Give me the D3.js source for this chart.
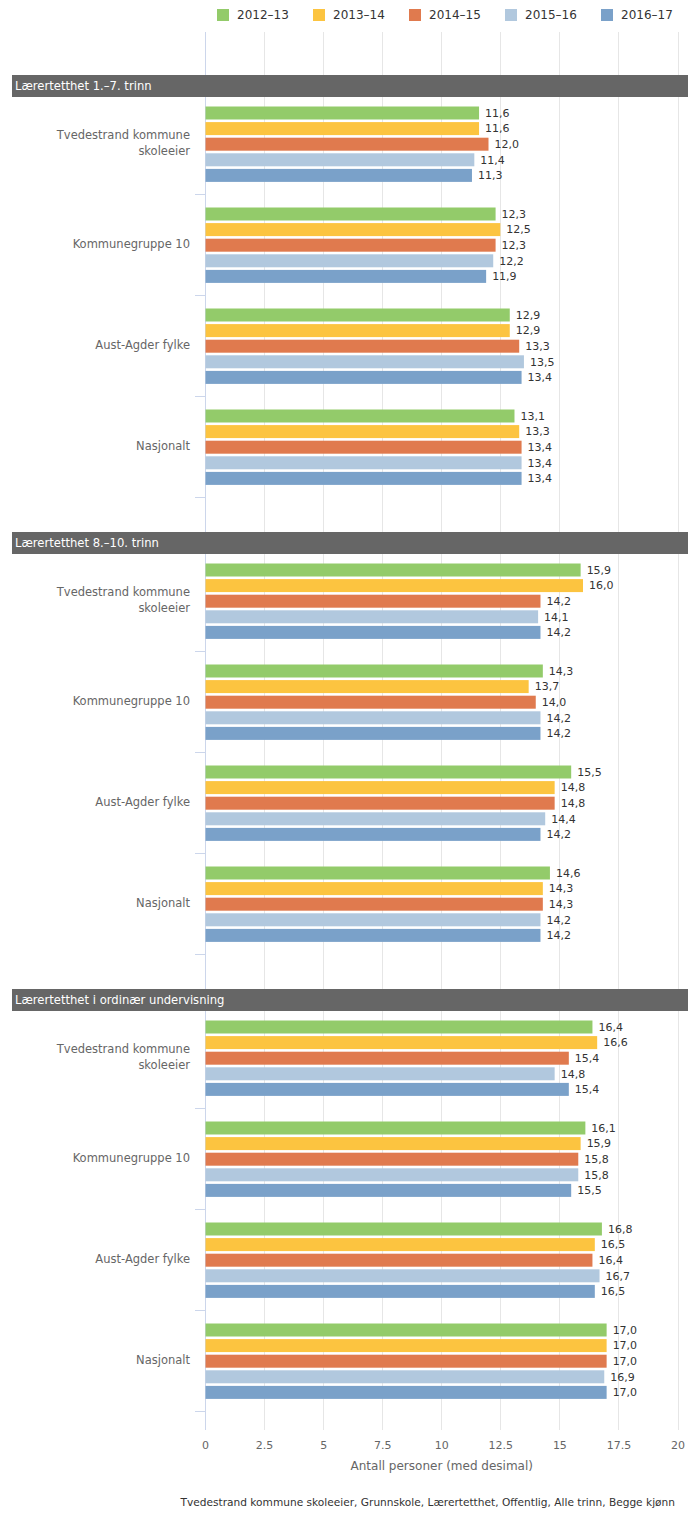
<!DOCTYPE html>
<html>
<head>
<meta charset="utf-8">
<script src="https://cdn.jsdelivr.net/npm/d3@7"></script>
<style>
  html, body { margin: 0; padding: 0; background: #fff; }
  svg { display: block; font-family: "DejaVu Sans", sans-serif; }
</style>
</head>
<body>
<svg id="chart" width="700" height="1534"></svg>
<script>
// ---- data ----
const sections = ["Lærertetthet 1.–7. trinn", "Lærertetthet 8.–10. trinn", "Lærertetthet i ordinær undervisning"];
const categories = ["Tvedestrand kommune skoleeier", "Kommunegruppe 10", "Aust-Agder fylke", "Nasjonalt"];
const seasons = ["2012–13", "2013–14", "2014–15", "2015–16", "2016–17"];
const seasonColors = ["#93cb6a", "#fcc440", "#e07a4e", "#b1c8de", "#7aa1c9"];
// values[category][season]
const values1to7 = [
  [11.6, 11.6, 12.0, 11.4, 11.3],
  [12.3, 12.5, 12.3, 12.2, 11.9],
  [12.9, 12.9, 13.3, 13.5, 13.4],
  [13.1, 13.3, 13.4, 13.4, 13.4]
];
const values8to10 = [
  [15.9, 16.0, 14.2, 14.1, 14.2],
  [14.3, 13.7, 14.0, 14.2, 14.2],
  [15.5, 14.8, 14.8, 14.4, 14.2],
  [14.6, 14.3, 14.3, 14.2, 14.2]
];
const valuesOrdinaer = [
  [16.4, 16.6, 15.4, 14.8, 15.4],
  [16.1, 15.9, 15.8, 15.8, 15.5],
  [16.8, 16.5, 16.4, 16.7, 16.5],
  [17.0, 17.0, 17.0, 16.9, 17.0]
];
const sectionValues = [values1to7, values8to10, valuesOrdinaer];
const xTicks = [0, 2.5, 5, 7.5, 10, 12.5, 15, 17.5, 20];
const xAxisTitle = "Antall personer (med desimal)";
const footerText = "Tvedestrand kommune skoleeier, Grunnskole, Lærertetthet, Offentlig, Alle trinn, Begge kjønn";

// ---- layout ----
const svg = d3.select("#chart");
const plotTop = 32, plotBottom = 1430;
const x = d3.scaleLinear().domain([0, 20]).range([205, 677.5]);
const secStart0 = 93, secStep = 457, bandH = 101;
const fmt = v => d3.format(".1f")(v).replace(".", ",");
const tickFmt = v => String(v);

// grid lines
svg.append("g").selectAll("line").data(xTicks).join("line")
  .attr("x1", d => Math.round(x(d)) + 0.5).attr("x2", d => Math.round(x(d)) + 0.5)
  .attr("y1", plotTop).attr("y2", plotBottom)
  .attr("stroke", d => d === 0 ? "#ccd6eb" : "#e6e6e6").attr("stroke-width", 1);

// sections
sections.forEach((title, si) => {
  const start = secStart0 + si * secStep;
  const y = d3.scaleBand().domain(categories).range([start, start + bandH * categories.length]);
  const inner = d3.scaleBand().domain(seasons).range([13.5, 13.5 + 15.6 * (5 - 0.167)]).paddingInner(0.167);
  const g = svg.append("g");

  // category tick marks
  const bounds = [start].concat(categories.map(c => y(c) + y.bandwidth()));
  g.selectAll("line.tick").data(bounds).join("line")
    .attr("x1", 195).attr("x2", 205)
    .attr("y1", d => Math.round(d) + 0.5).attr("y2", d => Math.round(d) + 0.5)
    .attr("stroke", "#ccd6eb");

  categories.forEach((cat, ci) => {
    const vals = sectionValues[si][ci];
    const cg = g.append("g").attr("transform", `translate(0,${y(cat)})`);
    cg.selectAll("rect").data(vals).join("rect")
      .attr("x", x(0) + 0.5)
      .attr("y", (d, i) => inner(seasons[i]))
      .attr("width", d => x(d) - x(0) - 0.5)
      .attr("height", inner.bandwidth())
      .attr("fill", (d, i) => seasonColors[i]);
    cg.selectAll("text.val").data(vals).join("text")
      .attr("class", "val")
      .attr("x", d => x(d) + 6)
      .attr("y", (d, i) => inner(seasons[i]) + inner.bandwidth() / 2)
      .attr("dy", "0.35em")
      .attr("font-size", 11).attr("fill", "#333")
      .text(d => fmt(d));

    // category label
    const mid = y.bandwidth() / 2;
    const lines = cat === "Tvedestrand kommune skoleeier" ? ["Tvedestrand kommune", "skoleeier"] : [cat];
    const lineH = 15.5;
    lines.forEach((ln, li) => {
      cg.append("text")
        .attr("x", 190)
        .attr("y", mid + (li - (lines.length - 1) / 2) * lineH - 0.5)
        .attr("dy", "0.35em")
        .attr("text-anchor", "end")
        .attr("font-size", 11.5).attr("fill", "#666")
        .text(ln);
    });
  });

  // section header
  g.append("rect").attr("x", 12).attr("y", start - 18).attr("width", 676).attr("height", 22).attr("fill", "#666");
  g.append("text").attr("x", 15).attr("y", start - 7).attr("dy", "0.35em")
    .attr("font-size", 11.6).attr("fill", "#fff").text(title);
});

// x axis labels
svg.append("g").selectAll("text").data(xTicks).join("text")
  .attr("x", d => x(d) + 0.5).attr("y", 1449)
  .attr("text-anchor", "middle").attr("font-size", 11).attr("fill", "#666")
  .text(d => tickFmt(d));
svg.append("text").attr("x", (x(0) + x(20)) / 2 + 0.5).attr("y", 1470)
  .attr("text-anchor", "middle").attr("font-size", 12).attr("fill", "#666")
  .text(xAxisTitle);

// footer
svg.append("text").attr("x", 675).attr("y", 1506)
  .attr("text-anchor", "end").attr("font-size", 10.6).attr("fill", "#333")
  .text(footerText);

// legend
const lg = svg.append("g").selectAll("g").data(seasons).join("g")
  .attr("transform", (d, i) => `translate(${217 + i * 96},0)`);
lg.append("rect").attr("x", 0).attr("y", 9).attr("width", 12).attr("height", 12)
  .attr("fill", (d, i) => seasonColors[i]);
lg.append("text").attr("x", 20).attr("y", 15).attr("dy", "0.35em")
  .attr("font-size", 12).attr("fill", "#333").text(d => d);
</script>
</body>
</html>
